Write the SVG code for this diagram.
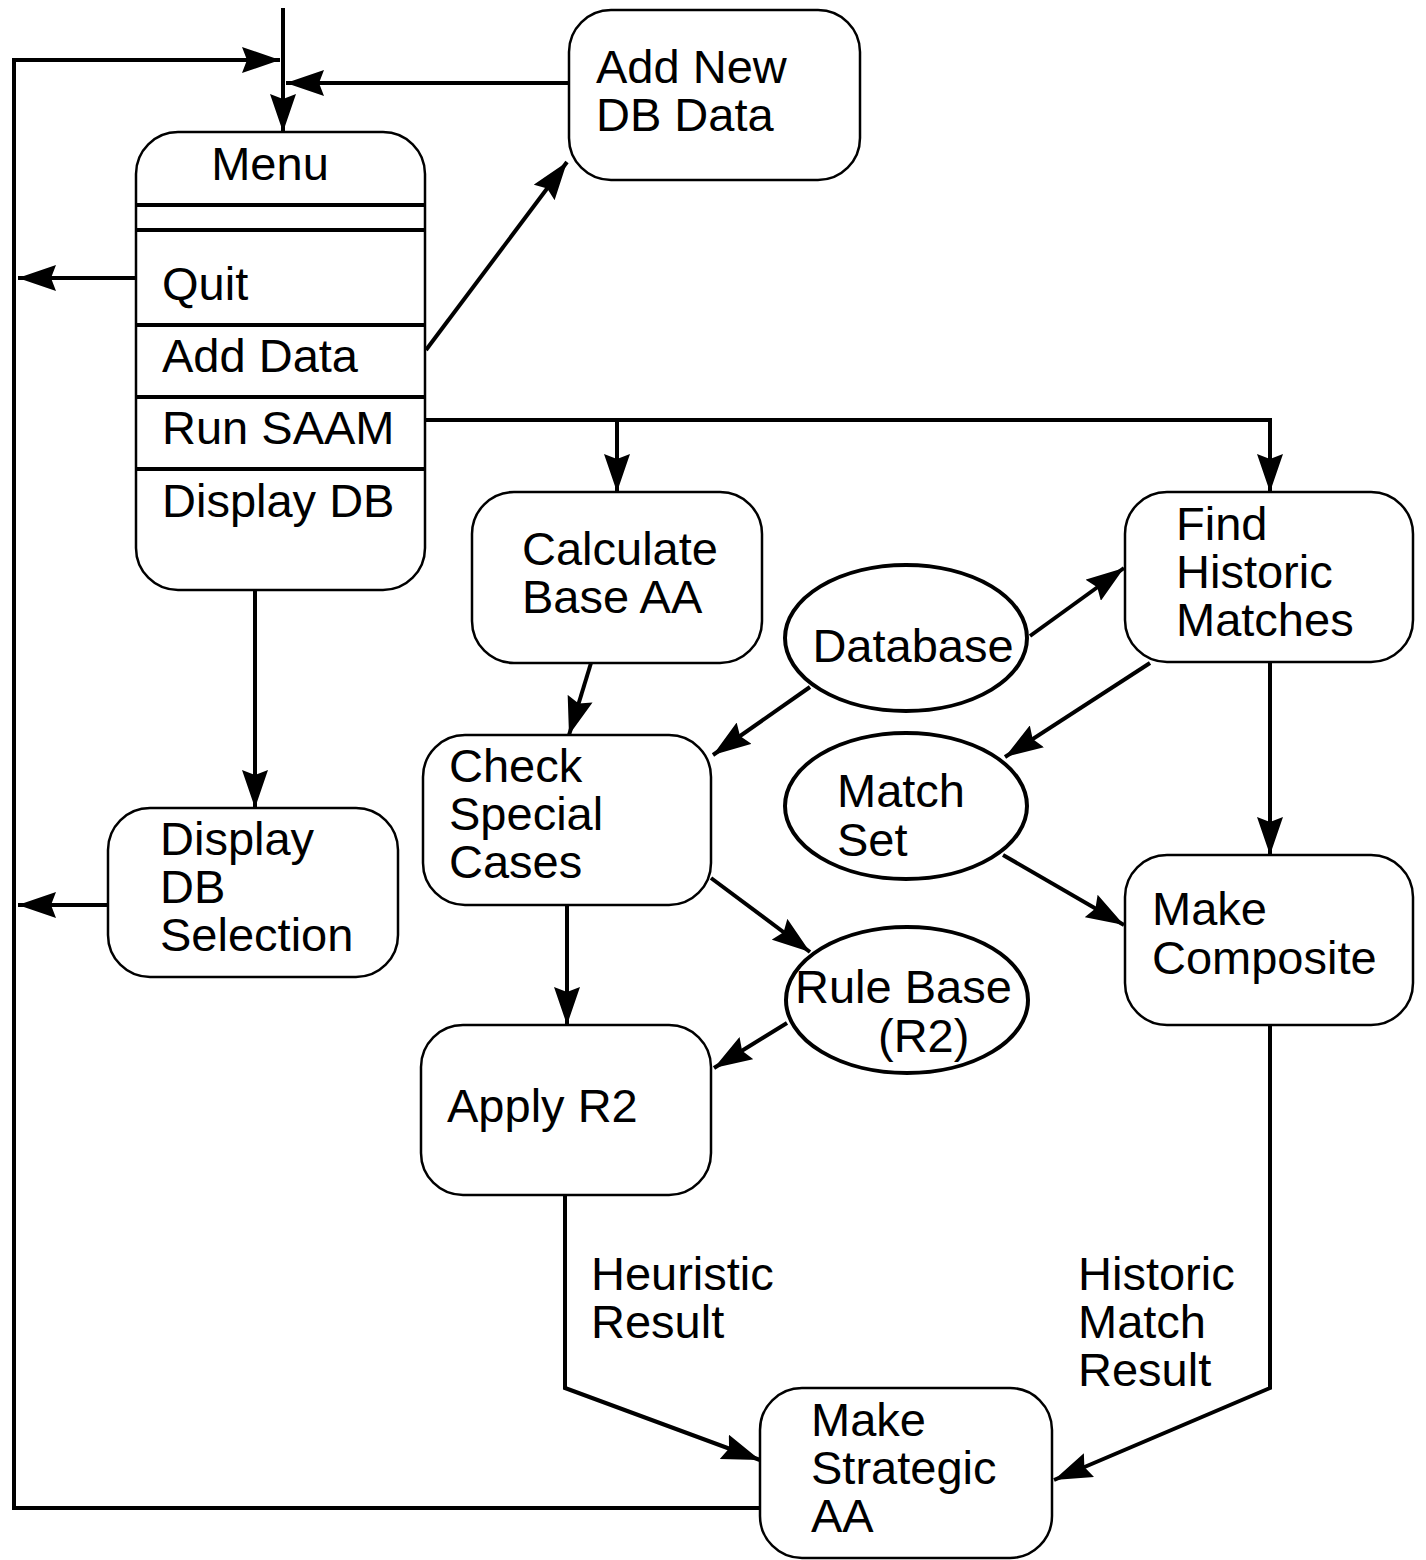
<svg xmlns="http://www.w3.org/2000/svg" width="1426" height="1560" viewBox="0 0 1426 1560">
<defs>
<marker id="ah" viewBox="0 0 38 26" refX="38" refY="13" markerWidth="38" markerHeight="26" orient="auto" markerUnits="userSpaceOnUse">
<path d="M0,0 L38,13 L0,26 L5,13 z" fill="#000"/>
</marker>
<style>
.box{fill:#fff;stroke:#000;stroke-width:2.5}
.sep{stroke:#000;stroke-width:4}
.t{font-family:"Liberation Sans",Arial,sans-serif;font-size:47px;fill:#000}
.c{fill:none;stroke:#000;stroke-width:4;stroke-linejoin:miter}
.a{marker-end:url(#ah)}
</style>
</defs>
<rect width="1426" height="1560" fill="#fff"/>

<g id="connectors">
<line class="c a" x1="283" y1="8" x2="283" y2="132"/>
<polyline class="c a" points="760,1508 14,1508 14,60 280,60"/>
<line class="c a" x1="569" y1="83" x2="286" y2="83"/>
<line class="c a" x1="136" y1="278" x2="18" y2="278"/>
<line class="c a" x1="426" y1="350" x2="567" y2="162"/>
<polyline class="c a" points="426,420 1270,420 1270,492"/>
<line class="c a" x1="617" y1="420" x2="617" y2="492"/>
<line class="c a" x1="255" y1="590" x2="255" y2="808"/>
<line class="c a" x1="108" y1="905" x2="18" y2="905"/>
<line class="c a" x1="591" y1="663" x2="569" y2="735"/>
<line class="c a" x1="810" y1="687" x2="713" y2="755"/>
<line class="c a" x1="1030" y1="636" x2="1124" y2="568"/>
<line class="c a" x1="1150" y1="663" x2="1005" y2="757"/>
<line class="c a" x1="1270" y1="662" x2="1270" y2="855"/>
<line class="c a" x1="1003" y1="855" x2="1124" y2="925"/>
<line class="c a" x1="711" y1="878" x2="810" y2="952"/>
<line class="c a" x1="567" y1="905" x2="567" y2="1025"/>
<line class="c a" x1="787" y1="1023" x2="714" y2="1068"/>
<polyline class="c a" points="565,1195 565,1388 760,1460"/>
<polyline class="c a" points="1270,1025 1270,1388 1054,1480"/>
</g>

<g id="menu">
<rect class="box" x="136" y="132" width="289" height="458" rx="42"/>
<line class="sep" x1="136" y1="205" x2="425" y2="205"/>
<line class="sep" x1="136" y1="230" x2="425" y2="230"/>
<line class="sep" x1="136" y1="325" x2="425" y2="325"/>
<line class="sep" x1="136" y1="397" x2="425" y2="397"/>
<line class="sep" x1="136" y1="469" x2="425" y2="469"/>
<text class="t" x="270" y="180" text-anchor="middle">Menu</text>
<text class="t" x="162" y="300">Quit</text>
<text class="t" x="162" y="372">Add Data</text>
<text class="t" x="162" y="444">Run SAAM</text>
<text class="t" x="162" y="517">Display DB</text>
</g>

<g id="addnew">
<rect class="box" x="569" y="10" width="291" height="170" rx="42"/>
<text class="t" x="596" y="83">Add New</text>
<text class="t" x="596" y="131">DB Data</text>
</g>

<g id="calcbase">
<rect class="box" x="472" y="492" width="290" height="171" rx="42"/>
<text class="t" x="522" y="565">Calculate</text>
<text class="t" x="522" y="613">Base AA</text>
</g>

<g id="findhist">
<rect class="box" x="1125" y="492" width="288" height="170" rx="42"/>
<text class="t" x="1176" y="540">Find</text>
<text class="t" x="1176" y="588">Historic</text>
<text class="t" x="1176" y="636">Matches</text>
</g>

<g id="database">
<ellipse class="box" cx="906" cy="638" rx="121" ry="73" style="stroke-width:4"/>
<text class="t" x="913" y="662" text-anchor="middle">Database</text>
</g>

<g id="matchset">
<ellipse class="box" cx="906" cy="806" rx="121" ry="73" style="stroke-width:4"/>
<text class="t" x="837" y="807">Match</text>
<text class="t" x="837" y="856">Set</text>
</g>

<g id="rulebase">
<ellipse class="box" cx="907" cy="1000" rx="121" ry="73" style="stroke-width:4"/>
<text class="t" x="795" y="1003">Rule Base</text>
<text class="t" x="878" y="1052">(R2)</text>
</g>

<g id="checkspecial">
<rect class="box" x="423" y="735" width="288" height="170" rx="42"/>
<text class="t" x="449" y="782">Check</text>
<text class="t" x="449" y="830">Special</text>
<text class="t" x="449" y="878">Cases</text>
</g>

<g id="displaysel">
<rect class="box" x="108" y="808" width="290" height="169" rx="42"/>
<text class="t" x="160" y="855">Display</text>
<text class="t" x="160" y="903">DB</text>
<text class="t" x="160" y="951">Selection</text>
</g>

<g id="makecomp">
<rect class="box" x="1125" y="855" width="288" height="170" rx="42"/>
<text class="t" x="1152" y="925">Make</text>
<text class="t" x="1152" y="974">Composite</text>
</g>

<g id="applyr2">
<rect class="box" x="421" y="1025" width="290" height="170" rx="42"/>
<text class="t" x="447" y="1122">Apply R2</text>
</g>

<g id="labels">
<text class="t" x="591" y="1290">Heuristic</text>
<text class="t" x="591" y="1338">Result</text>
<text class="t" x="1078" y="1290">Historic</text>
<text class="t" x="1078" y="1338">Match</text>
<text class="t" x="1078" y="1386">Result</text>
</g>

<g id="strategic">
<rect class="box" x="760" y="1388" width="292" height="170" rx="42"/>
<text class="t" x="811" y="1436">Make</text>
<text class="t" x="811" y="1484">Strategic</text>
<text class="t" x="811" y="1532">AA</text>
</g>
</svg>
